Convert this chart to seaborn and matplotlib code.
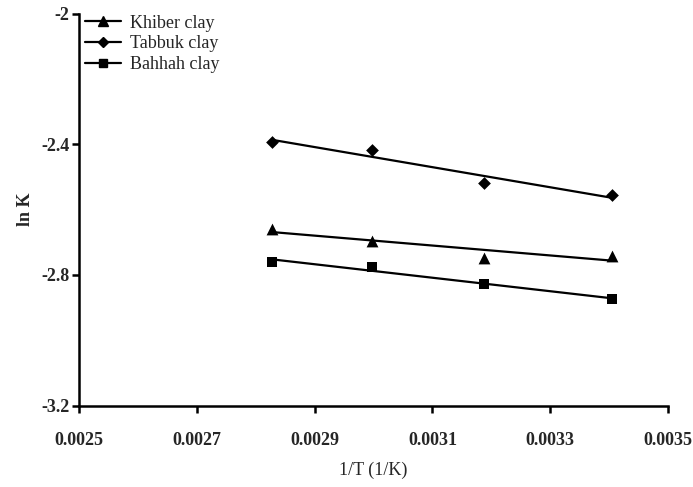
import numpy as np
import pandas as pd
import matplotlib
matplotlib.use("Agg")
import matplotlib.pyplot as plt
import seaborn as sns
from matplotlib.lines import Line2D

inv_T = [0.002827, 0.002997, 0.003188, 0.003405]
khiber = [-2.659, -2.695, -2.747, -2.741]
tabbuk = [-2.392, -2.418, -2.519, -2.556]
bahhah = [-2.760, -2.775, -2.828, -2.874]
series_names = ["Khiber clay", "Tabbuk clay", "Bahhah clay"]
markers = ["^", "D", "s"]
x_ticks = [0.0025, 0.0027, 0.0029, 0.0031, 0.0033, 0.0035]
y_ticks = [-3.2, -2.8, -2.4, -2.0]
y_ticklabels = ["-3.2", "-2.8", "-2.4", "-2"]

sns.set_style("ticks")
plt.rcParams['font.family'] = ['Liberation Serif', 'DejaVu Serif']

fig = plt.figure(figsize=(6.93, 4.87), dpi=100)
ax = fig.add_axes([0.114, 0.167, 0.850, 0.805])

sizes = {"^": 8.5, "D": 6.5, "s": 7.5}
handles = []
for name, vals, m in zip(series_names, [khiber, tabbuk, bahhah], markers):
    df = pd.DataFrame({"x": inv_T, "y": vals})
    ms = sizes[m]
    sns.regplot(data=df, x="x", y="y", ci=None, ax=ax, color="black",
                marker=m, scatter_kws={"s": ms**2, "linewidths": 0, "alpha": 1},
                line_kws={"lw": 1.6}, truncate=True)
    handles.append(Line2D([], [], color="black", marker=m, lw=1.6,
                          markersize=ms * 0.85, label=name))

ax.set_xlim(0.0025, 0.0035)
ax.set_ylim(-3.2, -2.0)
ax.set_xticks(x_ticks)
ax.set_xticklabels([f"{t:.4f}" for t in x_ticks], fontweight="bold")
ax.set_yticks(y_ticks)
ax.set_yticklabels(y_ticklabels, fontweight="bold")
ax.tick_params(axis="both", labelsize=13, width=1.8, length=5, color="black")
ax.tick_params(axis="x", pad=14)
ax.tick_params(axis="y", pad=2)
for s in ["left", "bottom"]:
    ax.spines[s].set_linewidth(1.8)
    ax.spines[s].set_color("black")
sns.despine(ax=ax)
ax.set_xlabel("1/T (1/K)", fontsize=13, labelpad=9)
ax.set_ylabel("ln K", fontsize=13, fontweight="bold", labelpad=5)

ax.legend(handles=handles, loc="upper left", bbox_to_anchor=(-0.008, 1.025),
          frameon=False, fontsize=13, handlelength=2.0, labelspacing=0.2,
          borderaxespad=0.2, handletextpad=0.5)

fig.savefig("out.png", dpi=100)
